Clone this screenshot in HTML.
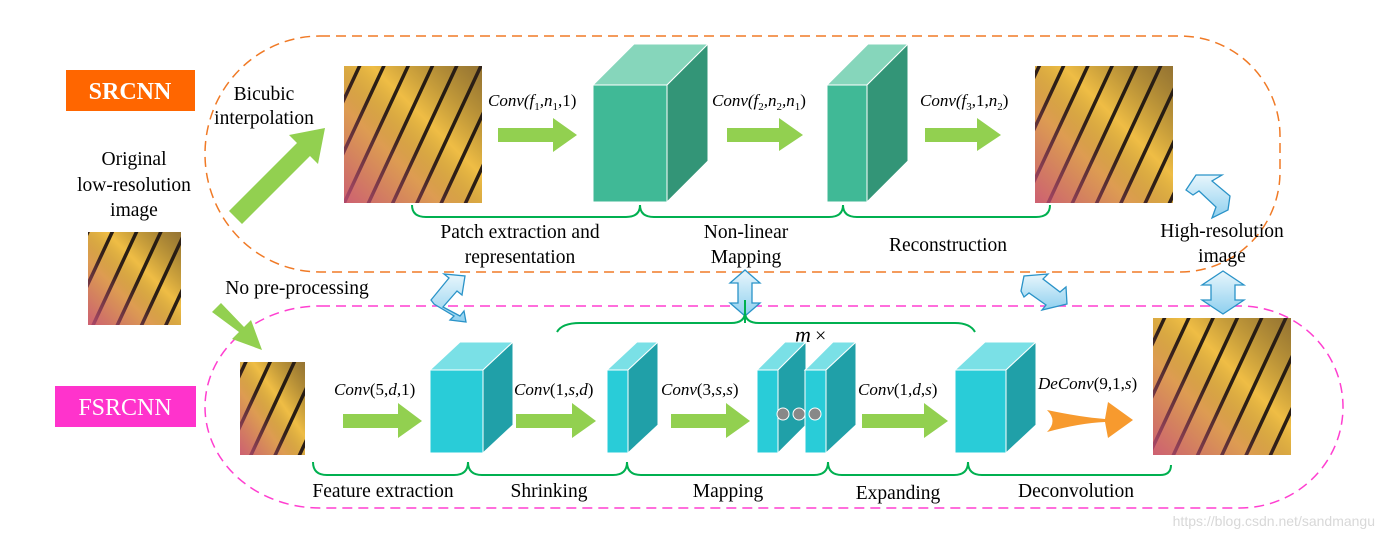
<!DOCTYPE html>
<html><head><meta charset="utf-8"><style>
html,body{margin:0;padding:0;background:#fff;}
svg{display:block;}
text{font-family:"Liberation Serif",serif;fill:#000;}
.t{font-size:19.5px;}
.c{font-size:17px;font-style:italic;}
</style></head><body>
<svg width="1376" height="536" viewBox="0 0 1376 536" xmlns="http://www.w3.org/2000/svg">
<defs>
<linearGradient id="bf" x1="0" y1="0" x2="1" y2="1">
<stop offset="0" stop-color="#d8942a"/><stop offset="0.4" stop-color="#f3c74a"/><stop offset="0.7" stop-color="#f0c050"/><stop offset="1" stop-color="#c98a36"/>
</linearGradient>
<pattern id="st" width="22" height="22" patternUnits="userSpaceOnUse" patternTransform="rotate(25)">
<rect width="22" height="22" fill="#efbd45"/><rect width="3.5" height="22" fill="#2a1e14"/>
</pattern>
<linearGradient id="pk" x1="0" y1="1" x2="1" y2="0">
<stop offset="0" stop-color="#c8507a" stop-opacity="0.85"/><stop offset="0.35" stop-color="#b55070" stop-opacity="0.3"/><stop offset="0.6" stop-color="#000" stop-opacity="0"/><stop offset="1" stop-color="#3a2a20" stop-opacity="0.5"/>
</linearGradient>
<linearGradient id="bl" x1="0" y1="0" x2="0" y2="1"><stop offset="0" stop-color="#e8f6fc"/><stop offset="1" stop-color="#8fd0ef"/></linearGradient>
</defs>

<path d="M320 36 H1180 A100 100 0 0 1 1280 136 V172 A100 100 0 0 1 1180 272 H320 A115 118 0 0 1 205 154 A115 118 0 0 1 320 36 Z" fill="none" stroke="#f07a26" stroke-width="1.5" stroke-dasharray="10,6"/>
<path d="M320 306 H1240 A103 101 0 0 1 1343 407 A103 101 0 0 1 1240 508 H320 A115 101 0 0 1 205 407 A115 101 0 0 1 320 306 Z" fill="none" stroke="#ff3fd0" stroke-width="1.5" stroke-dasharray="10,6"/>

<rect x="66" y="70" width="129" height="41" fill="#ff6600"/>
<text x="130" y="99" text-anchor="middle" style="font-size:24px;font-weight:bold;fill:#fff">SRCNN</text>
<rect x="55" y="386" width="141" height="41" fill="#ff33cc"/>
<text x="125" y="415" text-anchor="middle" style="font-size:24px;fill:#fff">FSRCNN</text>

<text class="t" x="134" y="165" text-anchor="middle">Original</text>
<text class="t" x="134" y="191" text-anchor="middle">low-resolution</text>
<text class="t" x="134" y="216" text-anchor="middle">image</text>
<text class="t" x="264" y="100" text-anchor="middle">Bicubic</text>
<text class="t" x="264" y="124" text-anchor="middle">interpolation</text>
<text class="t" x="297" y="294" text-anchor="middle">No pre-processing</text>

<g>
<rect x="88" y="232" width="93" height="93" fill="url(#st)"/><rect x="88" y="232" width="93" height="93" fill="url(#pk)"/>
<rect x="344" y="66" width="138" height="137" fill="url(#st)"/><rect x="344" y="66" width="138" height="137" fill="url(#pk)"/>
<rect x="1035" y="66" width="138" height="137" fill="url(#st)"/><rect x="1035" y="66" width="138" height="137" fill="url(#pk)"/>
<rect x="240" y="362" width="65" height="93" fill="url(#st)"/><rect x="240" y="362" width="65" height="93" fill="url(#pk)"/>
<rect x="1153" y="318" width="138" height="137" fill="url(#st)"/><rect x="1153" y="318" width="138" height="137" fill="url(#pk)"/>
</g>

<polygon points="229,211 297,143 289,135 325,128 318,164 310,156 242,224" fill="#92d050"/>
<polygon points="221,303 244,327 251,320 262,350 232,339 239,332 212,312" fill="#92d050"/>

<polygon points="498,128 553,128 553,118 577,135 553,152 553,142 498,142" fill="#92d050"/>
<polygon points="727,128 779,128 779,118 803,135 779,151 779,142 727,142" fill="#92d050"/>
<polygon points="925,128 977,128 977,118 1001,135 977,151 977,142 925,142" fill="#92d050"/>

<polygon points="593,85 634,44 708,44 667,85" fill="#86d6bb" stroke="#fff"/>
<polygon points="667,85 708,44 708,161 667,202" fill="#339577" stroke="#fff"/>
<rect x="593" y="85" width="74" height="117" fill="#40b996" stroke="#fff"/>
<polygon points="827,85 868,44 908,44 867,85" fill="#86d6bb" stroke="#fff"/>
<polygon points="867,85 908,44 908,161 867,202" fill="#339577" stroke="#fff"/>
<rect x="827" y="85" width="40" height="117" fill="#40b996" stroke="#fff"/>

<text class="c" x="488" y="106">Conv(<tspan>f</tspan><tspan font-size="11" dy="4" font-style="normal">1</tspan><tspan dy="-4">,n</tspan><tspan font-size="11" dy="4" font-style="normal">1</tspan><tspan dy="-4" font-style="normal">,1)</tspan></text>
<text class="c" x="712" y="106">Conv(f<tspan font-size="11" dy="4" font-style="normal">2</tspan><tspan dy="-4">,n</tspan><tspan font-size="11" dy="4" font-style="normal">2</tspan><tspan dy="-4">,n</tspan><tspan font-size="11" dy="4" font-style="normal">1</tspan><tspan dy="-4" font-style="normal">)</tspan></text>
<text class="c" x="920" y="106">Conv(f<tspan font-size="11" dy="4" font-style="normal">3</tspan><tspan dy="-4" font-style="normal">,1,</tspan><tspan>n</tspan><tspan font-size="11" dy="4" font-style="normal">2</tspan><tspan dy="-4" font-style="normal">)</tspan></text>

<path d="M412 205 Q412 217 426 217 H626 Q640 217 640 205 Q640 217 654 217 H829 Q843 217 843 205 Q843 217 857 217 H1036 Q1050 217 1050 205" fill="none" stroke="#00b050" stroke-width="2"/>
<text class="t" x="520" y="238" text-anchor="middle">Patch extraction and</text>
<text class="t" x="520" y="263" text-anchor="middle">representation</text>
<text class="t" x="746" y="238" text-anchor="middle">Non-linear</text>
<text class="t" x="746" y="263" text-anchor="middle">Mapping</text>
<text class="t" x="948" y="251" text-anchor="middle">Reconstruction</text>
<text class="t" x="1222" y="237" text-anchor="middle">High-resolution</text>
<text class="t" x="1222" y="262" text-anchor="middle">image</text>

<g fill="url(#bl)" stroke="#2a93c8" stroke-width="1.3">
<polygon points="431,300 449,278 444,274 465,276 462,295 457,291 443,307 460,316 464,311 466,322 450,320 454,316 434,304"/>
<polygon points="745,270 760,283 752,283 752,303 760,303 745,316 730,303 738,303 738,283 730,283"/>
<polygon points="1021,291 1024,276 1048,274 1043,279 1060,292 1066,287 1067,304 1042,310 1046,305 1029,293 1024,297"/>
<polygon points="1186,190 1196,175 1222,175 1212,181 1230,196 1228,210 1212,218 1216,207 1199,191 1193,195"/>
<polygon points="1223,271 1244,285 1235,285 1235,300 1244,300 1223,314 1202,300 1211,300 1211,285 1202,285"/>
</g>

<path d="M557 332 Q562 323 580 323 H731 Q745 323 745 312 Q745 323 759 323 H955 Q970 323 975 332" fill="none" stroke="#00b050" stroke-width="2"/>
<line x1="745" y1="300" x2="745" y2="323" stroke="#00b050" stroke-width="2"/>
<text x="795" y="342" style="font-size:22px;font-style:italic">m</text>
<text x="815" y="342" style="font-size:20px">×</text>

<polygon points="343,414 398,414 398,403 422,421 398,438 398,428 343,428" fill="#92d050"/>
<polygon points="516,414 572,414 572,403 596,421 572,438 572,428 516,428" fill="#92d050"/>
<polygon points="671,414 726,414 726,403 750,421 726,438 726,428 671,428" fill="#92d050"/>
<polygon points="862,414 924,414 924,403 948,421 924,438 924,428 862,428" fill="#92d050"/>
<path d="M1047 410 Q1080 417 1105 419 L1108 402 L1133 420 L1108 438 L1105 422 Q1080 423 1047 432 Q1058 421 1047 410 Z" fill="#f79a2e"/>

<g stroke="#fff">
<polygon points="430,370 460,342 513,342 483,370" fill="#7ae0e6"/>
<polygon points="483,370 513,342 513,425 483,453" fill="#20a0a8"/>
<rect x="430" y="370" width="53" height="83" fill="#29ccd8"/>
<polygon points="607,370 637,342 658,342 628,370" fill="#7ae0e6"/>
<polygon points="628,370 658,342 658,425 628,453" fill="#20a0a8"/>
<rect x="607" y="370" width="21" height="83" fill="#29ccd8"/>
<polygon points="757,370 785,342 806,342 778,370" fill="#7ae0e6"/>
<polygon points="778,370 806,342 806,425 778,453" fill="#20a0a8"/>
<rect x="757" y="370" width="21" height="83" fill="#29ccd8"/>
<polygon points="805,370 833,342 856,342 826,370" fill="#7ae0e6"/>
<polygon points="826,370 856,342 856,425 826,453" fill="#20a0a8"/>
<rect x="805" y="370" width="21" height="83" fill="#29ccd8"/>
<polygon points="955,370 985,342 1036,342 1006,370" fill="#7ae0e6"/>
<polygon points="1006,370 1036,342 1036,425 1006,453" fill="#20a0a8"/>
<rect x="955" y="370" width="51" height="83" fill="#29ccd8"/>
<circle cx="783" cy="414" r="6" fill="#888"/><circle cx="799" cy="414" r="6" fill="#888"/><circle cx="815" cy="414" r="6" fill="#888"/>
</g>

<text class="c" x="334" y="395">Conv<tspan font-style="normal">(5,</tspan>d<tspan font-style="normal">,1)</tspan></text>
<text class="c" x="514" y="395">Conv<tspan font-style="normal">(1,</tspan>s<tspan font-style="normal">,</tspan>d<tspan font-style="normal">)</tspan></text>
<text class="c" x="661" y="395">Conv<tspan font-style="normal">(3,</tspan>s<tspan font-style="normal">,</tspan>s<tspan font-style="normal">)</tspan></text>
<text class="c" x="858" y="395">Conv<tspan font-style="normal">(1,</tspan>d<tspan font-style="normal">,</tspan>s<tspan font-style="normal">)</tspan></text>
<text class="c" x="1038" y="389">DeConv<tspan font-style="normal">(9,1,</tspan>s<tspan font-style="normal">)</tspan></text>

<path d="M313 462 Q313 475 327 475 H454 Q468 475 468 462 Q468 475 482 475 H613 Q627 475 627 462 Q627 475 641 475 H814 Q828 475 828 462 Q828 475 842 475 H954 Q968 475 968 462 Q968 475 982 475 H1160 Q1171 475 1171 465" fill="none" stroke="#00b050" stroke-width="2"/>
<text class="t" x="383" y="497" text-anchor="middle">Feature extraction</text>
<text class="t" x="549" y="497" text-anchor="middle">Shrinking</text>
<text class="t" x="728" y="497" text-anchor="middle">Mapping</text>
<text class="t" x="898" y="499" text-anchor="middle">Expanding</text>
<text class="t" x="1076" y="497" text-anchor="middle">Deconvolution</text>

<text x="1375" y="526" text-anchor="end" style="font-family:'Liberation Sans',sans-serif;font-size:14px;fill:#d8d8d8">https://blog.csdn.net/sandmangu</text>
</svg>
</body></html>
